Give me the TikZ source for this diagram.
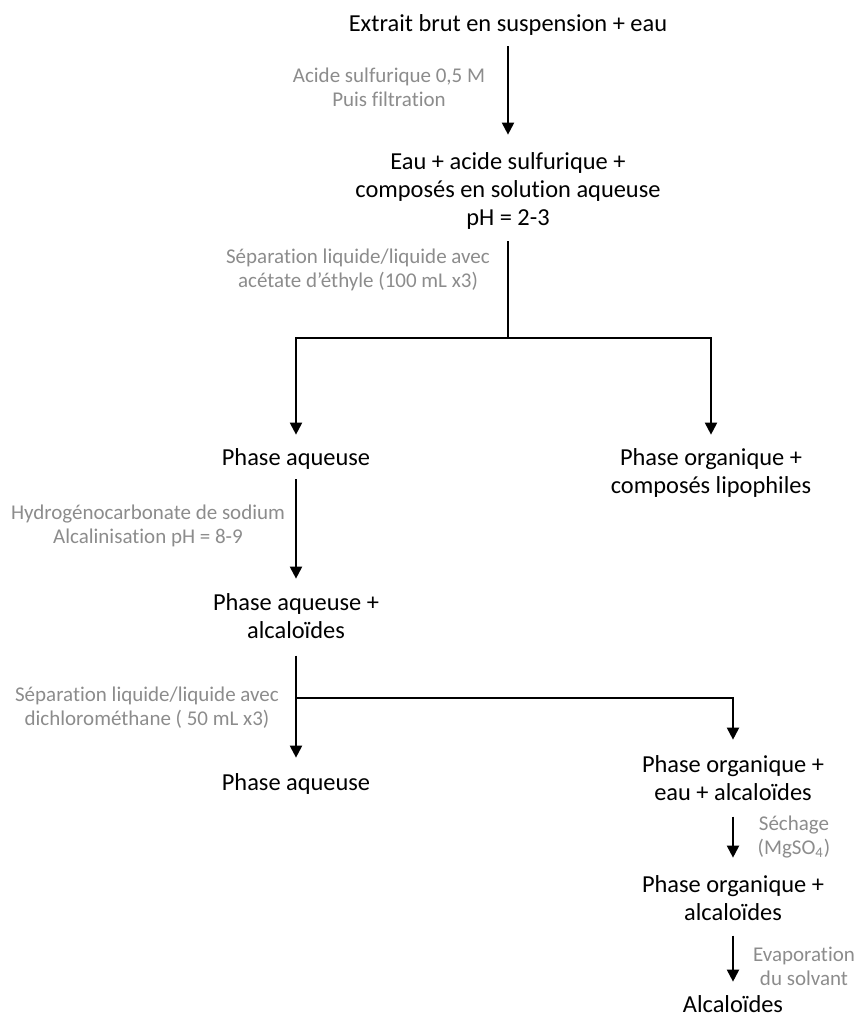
\documentclass[tikz,border=0pt]{standalone}
\usepackage{fontspec}
\setmainfont{Carlito}[Ligatures=NoCommon]
\usetikzlibrary{arrows.meta}
\definecolor{grisclair}{HTML}{8C8C8C}
\begin{document}
\begin{tikzpicture}[x=0.5pt,y=-0.5pt,
  etape/.style={inner sep=0pt, align=center, anchor=base, font=\fontsize{12.2}{14}\selectfont},
  cond/.style={inner sep=0pt, align=center, anchor=base, text=grisclair, font=\fontsize{10.5}{12}\selectfont},
  fleche/.style={line width=1pt, -{Triangle[width=6pt,length=6pt]}},
  trait/.style={line width=1pt}]
\useasboundingbox (0,0) rectangle (858,1016);
\node[etape] (extrait) at (508,32) {Extrait brut en suspension + eau};
\node[etape] (eau) at (508,226) {Eau + acide sulfurique +\\composés en solution aqueuse\\pH = 2-3};
\node[etape] (pa1) at (296,465) {Phase aqueuse};
\node[etape] (org1) at (711,493) {Phase organique +\\composés lipophiles};
\node[etape] (pa2) at (296,638) {Phase aqueuse +\\alcaloïdes};
\node[etape] (pa3) at (296,790) {Phase aqueuse};
\node[etape] (org2) at (733,800) {Phase organique +\\eau + alcaloïdes};
\node[etape] (org3) at (733,920) {Phase organique +\\alcaloïdes};
\node[etape] (alc) at (733,1012) {Alcaloïdes};
\node[cond] (c1) at (389,107) {Acide sulfurique 0,5 M\\Puis filtration};
\node[cond] (c2) at (358,287) {Séparation liquide/liquide avec\\acétate d’éthyle (100 mL x3)};
\node[cond] (c3) at (148,543) {Hydrogénocarbonate de sodium\\Alcalinisation pH = 8-9};
\node[cond] (c4) at (147,725) {Séparation liquide/liquide avec\\dichlorométhane ( 50 mL x3)};
\node[cond] (c5) at (794,854) {Séchage\\(MgSO\textsubscript{4})};
\node[cond] (c6) at (804,985) {Evaporation\\du solvant};
\coordinate (jA) at (508,338);
\coordinate (jB) at (296,698);
\draw[fleche, shorten <=5pt, shorten >=9pt] (extrait.south) -- (eau.north);
\draw[trait, shorten <=5.5pt] (eau.south) -- (jA);
\draw[fleche, shorten >=6.5pt] (jA) -| (pa1.north);
\draw[fleche, shorten >=6.5pt] (jA) -| (org1.north);
\draw[fleche, shorten <=5pt, shorten >=7pt] (pa1.south) -- (pa2.north);
\draw[trait, shorten <=8.5pt] (pa2.south) -- (jB);
\draw[fleche, shorten >=7.5pt] (jB) -- (pa3.north);
\draw[fleche, shorten >=7.5pt] (jB) -| (org2.north);
\draw[fleche, shorten <=8pt, shorten >=8.5pt] (org2.south) -- (org3.north);
\draw[fleche, shorten <=7.5pt, shorten >=6.5pt] (org3.south) -- (alc.north);
\end{tikzpicture}
\end{document}
